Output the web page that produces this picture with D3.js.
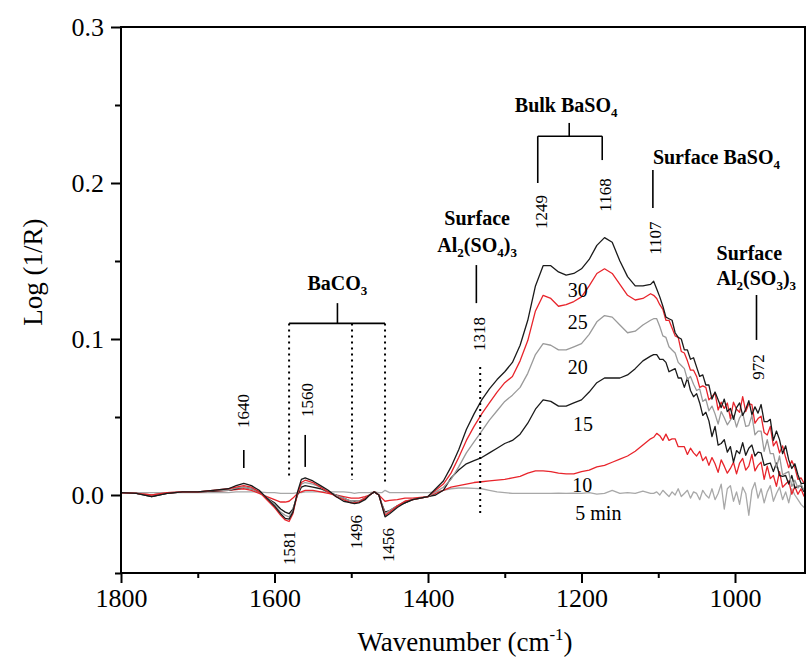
<!DOCTYPE html>
<html><head><meta charset="utf-8">
<script src="https://cdn.jsdelivr.net/npm/d3@7"></script>
<style>
html,body{margin:0;padding:0;background:#fff;}
svg{display:block;}
</style></head>
<body>
<svg id="chart" width="806" height="669"></svg>
<script>
// ---- data ----
const wnLow = [1800,1780,1760,1740,1720,1700,1680,1660,1650,1640,1630,1620,1610,1600,1592,1586,1581,1576,1570,1565,1560,1550,1540,1530,1520,1510,1500,1496,1490,1482,1476,1470,1464,1460,1456,1450,1440,1430,1420,1410,1400];
const wnMid = [1390,1380,1370,1360,1350,1340,1330,1320,1310,1300,1290,1280,1270,1260,1250,1240,1230,1220,1210,1200,1190,1180,1170,1160,1150,1140,1130,1120,1110];
const wnHigh = [1106,1102,1098,1094,1090,1086,1082,1078,1074,1070,1066,1062,1058,1054,1050,1046,1042,1038,1034,1030,1026,1022,1018,1014,1010,1006,1002,998,994,990,986,982,978,974,970,966,962,958,954,950,946,942,938,934,930,926,922,918,914,910];
const wavenumbers = wnLow.concat(wnMid, wnHigh);

const min5 = [
0.0015,0.0015,0.0015,0.0015,0.0015,0.0015,0.0015,0.0015,0.002,0.002,0.002,0.002,0.0015,0.0015,0.001,0.001,0.001,0.001,0.0015,0.0015,0.002,0.002,0.002,0.002,0.002,0.002,0.0015,0.001,0.0015,0.0015,0.0015,0.002,0.0015,0.0015,0.003,0.0015,0.0015,0.0015,0.0015,0.0015,0.0015,
0.002,0.003,0.004,0.0045,0.0045,0.0043,0.004,0.003,0.002,0.0015,0.001,0.001,0.001,0.001,0.001,0.001,0.0012,0.001,0.0012,0.001,0.0015,0.0005,0.001,0.003,0.001,0.0015,0.001,0.0025,0.001,
0.001,0.002,0.000,0.003,0.001,-0.001,0.002,0.000,0.004,-0.001,0.001,0.003,-0.002,0.002,0.001,-0.003,0.003,0.000,-0.002,0.004,-0.003,0.001,0.007,-0.009,0.004,0.006,-0.004,0.002,-0.006,0.005,0.001,-0.013,0.003,0.008,-0.002,0.004,-0.005,0.002,0.006,-0.004,0.001,0.005,-0.003,0.002,-0.005,0.004,0.000,-0.003,-0.006,-0.008];
const min10 = [
0.0015,0.001,0.0,0.001,0.002,0.002,0.0025,0.003,0.0035,0.004,0.003,0.001,-0.001,-0.003,-0.0045,-0.0045,-0.004,-0.002,0.001,0.002,0.003,0.003,0.002,0.001,0.0,-0.001,-0.002,-0.002,-0.002,-0.001,0.0,0.002,0.0,-0.002,-0.004,-0.0035,-0.003,-0.002,-0.002,-0.0015,-0.001,
0.001,0.003,0.005,0.006,0.007,0.008,0.0085,0.009,0.0095,0.010,0.011,0.012,0.014,0.0155,0.0155,0.015,0.014,0.0135,0.0135,0.015,0.016,0.018,0.019,0.021,0.023,0.025,0.028,0.032,0.036,
0.037,0.0395,0.038,0.035,0.039,0.035,0.036,0.036,0.031,0.031,0.031,0.026,0.030,0.027,0.025,0.028,0.022,0.0245,0.019,0.024,0.020,0.0145,0.0225,0.0185,0.014,0.017,0.021,0.0135,0.0205,0.0235,0.016,0.0185,0.026,0.0155,0.019,0.021,0.010,0.0185,0.0105,0.0125,0.0055,0.015,0.005,0.007,0.009,0.0005,0.0055,0.0005,0.004,-0.001];
const min15 = [
0.0015,0.001,-0.001,0.001,0.002,0.002,0.0025,0.003,0.004,0.005,0.004,0.002,-0.002,-0.005,-0.009,-0.011,-0.012,-0.009,0.0,0.005,0.006,0.005,0.004,0.002,0.0,-0.002,-0.004,-0.004,-0.004,-0.002,0.0,0.002,0.0,-0.006,-0.011,-0.010,-0.007,-0.005,-0.003,-0.002,-0.001,
0.000,0.003,0.011,0.016,0.020,0.022,0.024,0.027,0.030,0.033,0.035,0.039,0.046,0.055,0.061,0.060,0.057,0.057,0.059,0.061,0.066,0.072,0.075,0.075,0.075,0.077,0.081,0.086,0.089,
0.090,0.090,0.087,0.087,0.085,0.079,0.080,0.081,0.075,0.075,0.069,0.075,0.067,0.063,0.065,0.059,0.051,0.053,0.0475,0.0375,0.044,0.032,0.033,0.0355,0.0275,0.031,0.021,0.0285,0.0265,0.0335,0.0255,0.030,0.032,0.025,0.0275,0.027,0.019,0.020,0.0205,0.015,0.0205,0.0125,0.012,0.0125,0.007,0.0125,0.0045,0.0055,0.006,0.002];
const min20 = [
0.0015,0.001,0.0,0.0015,0.002,0.002,0.003,0.003,0.0045,0.005,0.004,0.002,-0.002,-0.006,-0.011,-0.013,-0.014,-0.010,0.001,0.007,0.008,0.007,0.005,0.002,0.0,-0.002,-0.004,-0.0045,-0.004,-0.002,0.0,0.002,0.0,-0.006,-0.012,-0.010,-0.007,-0.004,-0.003,-0.002,-0.001,
0.002,0.005,0.010,0.018,0.027,0.034,0.041,0.048,0.054,0.060,0.064,0.069,0.078,0.090,0.097,0.096,0.093,0.093,0.095,0.097,0.103,0.111,0.115,0.114,0.109,0.104,0.105,0.109,0.112,
0.113,0.113,0.108,0.102,0.101,0.095,0.093,0.091,0.085,0.083,0.081,0.074,0.076,0.071,0.067,0.068,0.060,0.0615,0.054,0.057,0.052,0.0455,0.0535,0.0495,0.045,0.048,0.051,0.0435,0.0495,0.0525,0.044,0.0445,0.051,0.0385,0.041,0.041,0.028,0.0355,0.0265,0.0265,0.0175,0.025,0.013,0.014,0.015,0.0055,0.0095,0.0045,0.007,0.003];
const min25 = [
0.0015,0.001,0.0,0.0015,0.002,0.002,0.003,0.004,0.005,0.006,0.005,0.002,-0.003,-0.008,-0.013,-0.016,-0.017,-0.012,0.001,0.008,0.0095,0.008,0.005,0.002,-0.001,-0.003,-0.005,-0.005,-0.0045,-0.002,0.0,0.002,0.0,-0.007,-0.013,-0.011,-0.007,-0.004,-0.003,-0.002,-0.001,
0.003,0.007,0.014,0.024,0.035,0.044,0.052,0.059,0.066,0.072,0.076,0.086,0.099,0.118,0.128,0.126,0.121,0.122,0.124,0.127,0.134,0.142,0.145,0.142,0.135,0.128,0.125,0.126,0.129,
0.128,0.126,0.122,0.119,0.112,0.112,0.107,0.102,0.101,0.092,0.091,0.086,0.080,0.080,0.076,0.069,0.070,0.069,0.061,0.063,0.0655,0.0545,0.0595,0.0555,0.059,0.049,0.0595,0.055,0.053,0.063,0.0535,0.0585,0.058,0.046,0.049,0.0505,0.040,0.0385,0.044,0.0315,0.0345,0.027,0.0315,0.024,0.0175,0.022,0.0175,0.010,0.011,0.0075];
const min30 = [
0.0015,0.001,-0.001,0.001,0.002,0.002,0.003,0.004,0.006,0.0075,0.006,0.003,-0.002,-0.007,-0.012,-0.015,-0.0155,-0.011,0.002,0.010,0.011,0.009,0.006,0.003,-0.001,-0.004,-0.005,-0.0055,-0.005,-0.003,0.0,0.002,0.0,-0.007,-0.014,-0.012,-0.008,-0.005,-0.003,-0.002,-0.001,
0.004,0.009,0.018,0.029,0.042,0.052,0.061,0.068,0.074,0.079,0.085,0.096,0.112,0.134,0.147,0.147,0.143,0.141,0.142,0.145,0.151,0.160,0.165,0.162,0.150,0.140,0.134,0.134,0.135,
0.137,0.132,0.127,0.121,0.114,0.113,0.112,0.104,0.101,0.100,0.093,0.093,0.087,0.088,0.082,0.076,0.077,0.0705,0.0705,0.0615,0.066,0.061,0.056,0.0615,0.0535,0.0555,0.0485,0.056,0.059,0.051,0.055,0.0605,0.0515,0.0565,0.0525,0.058,0.047,0.047,0.0485,0.035,0.041,0.0355,0.0265,0.0315,0.0225,0.017,0.020,0.013,0.0075,0.0075];

const seriesNames = ["5 min","10","15","20","25","30"];
const seriesValues = [min5, min10, min15, min20, min25, min30];
const seriesColors = ["#a8a8a8","#e8242b","#1a1a1a","#9a9a9a","#e8242b","#1a1a1a"];
const labelWn = [1178,1199,1198,1205,1205,1205];
const labelVal = [-0.0115,0.0064,0.0455,0.082,0.1109,0.1314];

const xMajor = [1800,1600,1400,1200,1000];
const xMinor = [1700,1500,1300,1100];
const yMajor = [0.0,0.1,0.2,0.3];
const yMinor = [-0.05,0.05,0.15,0.25];

const FONT = "'Liberation Serif','Times New Roman',serif";

const svg = d3.select("#chart");
const L = 121, R = 805, T = 27, B = 573;
const x = d3.scaleLinear().domain([1800, 908.8]).range([L, R]);
const y = d3.scaleLinear().domain([-0.05, 0.3]).range([B, T]);

const xAxis = d3.axisBottom(x).tickValues(xMajor).tickSize(10).tickPadding(6).tickFormat(d3.format("d"));
const xAxisMinor = d3.axisBottom(x).tickValues(xMinor).tickSize(5).tickFormat("");
const yAxis = d3.axisLeft(y).tickValues(yMajor).tickSize(10).tickPadding(7).tickFormat(d3.format(".1f"));
const yAxisMinor = d3.axisLeft(y).tickValues(yMinor).tickSize(6).tickFormat("");

function styleAxis(g){
  g.attr("font-family", null);
  g.select(".domain").remove();
  g.selectAll(".tick line").attr("stroke","#000").attr("stroke-width",2);
  g.selectAll(".tick text").style("font-family",FONT).style("font-size","26px").attr("fill","#000");
}
svg.append("g").attr("transform",`translate(0,${B})`).call(xAxis).call(styleAxis);
svg.append("g").attr("transform",`translate(0,${B})`).call(xAxisMinor).call(styleAxis);
svg.append("g").attr("transform",`translate(${L},0)`).call(yAxis).call(styleAxis);
svg.append("g").attr("transform",`translate(${L},0)`).call(yAxisMinor).call(styleAxis);

svg.append("clipPath").attr("id","clip").append("rect").attr("x",L).attr("y",T).attr("width",R-L).attr("height",B-T);

const line = d3.line().x((d,i)=>x(wavenumbers[i])).y(d=>y(d));
const gl = svg.append("g").attr("clip-path","url(#clip)");
seriesValues.forEach((vals,k)=>{
  gl.append("path").attr("d",line(vals)).attr("fill","none")
    .attr("stroke",seriesColors[k]).attr("stroke-width",1.3).attr("stroke-linejoin","round");
});

svg.append("rect").attr("x",L).attr("y",T).attr("width",R-L).attr("height",B-T)
  .attr("fill","none").attr("stroke","#000").attr("stroke-width",2);

const xt = svg.append("text").attr("x",465).attr("y",651).attr("text-anchor","middle")
  .style("font-family",FONT).style("font-size","27px");
xt.append("tspan").text("Wavenumber (cm");
xt.append("tspan").style("font-size","17px").attr("dy",-11).text("-1");
xt.append("tspan").attr("dy",11).text(")");
svg.append("text").attr("transform","translate(42,272) rotate(-90)").attr("text-anchor","middle")
  .style("font-family",FONT).style("font-size","27px").text("Log (1/R)");

const ga = svg.append("g");
seriesNames.forEach((n,k)=>{
  ga.append("text").attr("x",x(labelWn[k])).attr("y",y(labelVal[k])).attr("text-anchor","middle")
    .attr("dominant-baseline","central").style("font-family",FONT).style("font-size","20px").text(n);
});

function vline(wn, v1, v2, dotted){
  ga.append("line").attr("x1",x(wn)).attr("x2",x(wn)).attr("y1",y(v1)).attr("y2",y(v2))
    .attr("stroke","#000").attr("stroke-width",dotted?2:1.6)
    .attr("stroke-dasharray",dotted?"2,4":null);
}
function hline(wn1, wn2, v){
  ga.append("line").attr("x1",x(wn1)).attr("x2",x(wn2)).attr("y1",y(v)).attr("y2",y(v))
    .attr("stroke","#000").attr("stroke-width",1.6);
}
function rlabel(wn, v, t){
  ga.append("text").attr("transform",`translate(${x(wn)},${y(v)}) rotate(-90)`)
    .attr("text-anchor","middle").attr("dominant-baseline","central")
    .style("font-family",FONT).style("font-size","17px").text(t);
}
function chem(wn, v, parts, anchor){
  const t = ga.append("text").attr("x",x(wn)).attr("y",y(v)).attr("text-anchor",anchor||"start")
    .style("font-family",FONT).style("font-size","20px").style("font-weight","bold");
  let sub=false;
  parts.forEach(p=>{
    if(p.sub){
      t.append("tspan").style("font-size","13px").attr("dy",sub?0:5).text(p.s); sub=true;
    } else {
      t.append("tspan").attr("dy",sub?-5:0).text(p.s); sub=false;
    }
  });
}

vline(1640, 0.0288, 0.0173); rlabel(1641, 0.0538, "1640");
vline(1560, 0.0385, 0.018); rlabel(1557, 0.0609, "1560");
hline(1581, 1456, 0.110); vline(1518, 0.110, 0.123);
vline(1581, 0.110, 0.0109, true); vline(1499, 0.110, 0.0096, true); vline(1456, 0.110, 0.0077, true);
chem(1518, 0.1314, [{s:"BaCO"},{s:"3",sub:true}], "middle");
rlabel(1580, -0.034, "1581"); rlabel(1493, -0.0237, "1496"); rlabel(1452, -0.032, "1456");
vline(1332, 0.082, -0.0128, true); vline(1337, 0.1474, 0.123); rlabel(1333, 0.1032, "1318");
chem(1336, 0.173, [{s:"Surface"}], "middle");
chem(1336, 0.1558, [{s:"Al"},{s:"2",sub:true},{s:"(SO"},{s:"4",sub:true},{s:")"},{s:"3",sub:true}], "middle");
chem(1220, 0.2455, [{s:"Bulk BaSO"},{s:"4",sub:true}], "middle");
vline(1216, 0.2385, 0.230); hline(1257, 1173, 0.230);
vline(1257, 0.230, 0.200); vline(1173, 0.230, 0.2147);
rlabel(1252, 0.1814, "1249"); rlabel(1169, 0.1923, "1168");
chem(1107, 0.2122, [{s:"Surface BaSO"},{s:"4",sub:true}], "start");
vline(1107, 0.2083, 0.184); rlabel(1103, 0.1647, "1107");
chem(1024, 0.1506, [{s:"Surface"}], "start");
chem(1024, 0.1346, [{s:"Al"},{s:"2",sub:true},{s:"(SO"},{s:"3",sub:true},{s:")"},{s:"3",sub:true}], "start");
vline(972, 0.1282, 0.0994); rlabel(970, 0.082, "972");
</script>
</body></html>
